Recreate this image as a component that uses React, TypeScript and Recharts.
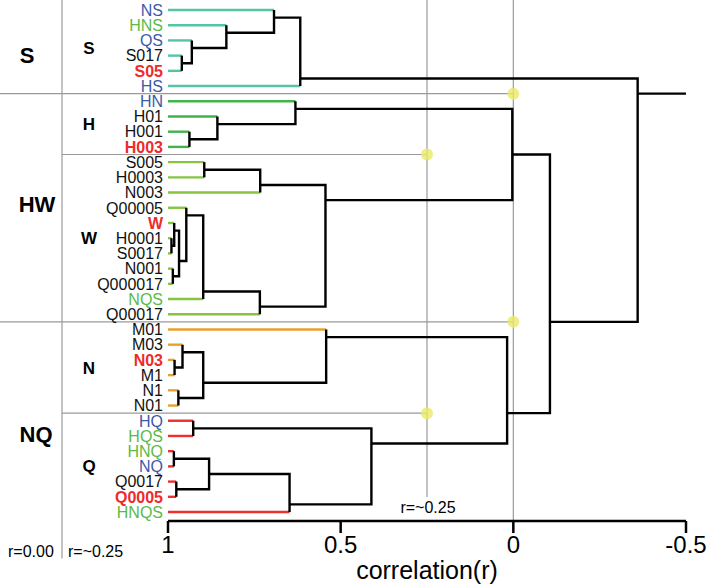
import React from "react";
import { ComposedChart, Line, Scatter, XAxis, YAxis, ReferenceLine } from "recharts";

const leafLabels = [
  "NS", "HNS", "QS", "S017", "S05", "HS",
  "HN", "H01", "H001", "H003",
  "S005", "H0003", "N003", "Q00005", "W", "H0001", "S0017", "N001", "Q000017", "NQS", "Q00017",
  "M01", "M03", "N03", "M1", "N1", "N01",
  "HQ", "HQS", "HNQ", "NQ", "Q0017", "Q0005", "HNQS",
];

// binary = two-component mix, multi = three or more, dilution = diluted series, reference = pure sample
const leafKinds = [
  "binary", "multi", "binary", "dilution", "reference", "binary",
  "binary", "dilution", "dilution", "reference",
  "dilution", "dilution", "dilution", "dilution", "reference", "dilution", "dilution", "dilution", "dilution", "multi", "dilution",
  "dilution", "dilution", "reference", "dilution", "dilution", "dilution",
  "binary", "multi", "multi", "binary", "dilution", "reference", "multi",
];

const subgroupNames = ["S", "H", "W", "N", "Q"];
const subgroupSizes = [6, 4, 11, 6, 7];
const groupNames = ["S", "HW", "NQ"];
const groupSizes = [6, 15, 13];

// [upper child, lower child, r]; ids below 34 are leaves, 34 + k is merge k
const merges: [number, number, number][] = [
  [3, 4, 0.96], // S017 S05
  [2, 34, 0.931],
  [1, 35, 0.831],
  [0, 36, 0.693],
  [37, 5, 0.617], // S
  [8, 9, 0.938], // H001 H003
  [7, 39, 0.857],
  [6, 40, 0.631], // H
  [10, 11, 0.895], // S005 H0003
  [42, 12, 0.733],
  [15, 16, 0.99], // H0001 S0017
  [14, 44, 0.982],
  [17, 18, 0.986], // N001 Q000017
  [45, 46, 0.968],
  [13, 47, 0.947],
  [48, 19, 0.898],
  [49, 20, 0.734],
  [43, 50, 0.544], // W
  [41, 51, 0.003], // HW
  [23, 24, 0.981], // N03 M1
  [22, 53, 0.958],
  [25, 26, 0.97], // N1 N01
  [54, 55, 0.898],
  [21, 56, 0.542], // N
  [27, 28, 0.927], // HQ HQS
  [29, 30, 0.983], // HNQ NQ
  [31, 32, 0.976], // Q0017 Q0005
  [59, 60, 0.881],
  [61, 33, 0.648],
  [58, 62, 0.411], // Q
  [57, 63, 0.018], // NQ
  [52, 64, -0.106],
  [38, 65, -0.36], // root
];
const rootEnd = -0.505;
const axisTicks = [1, 0.5, 0, -0.5];

const kindColor: Record<string, string> = {
  binary: "#3c5aa8",
  multi: "#5db947",
  dilution: "#111111",
  reference: "#ee2b2b",
};
const subgroupColor: Record<string, string> = {
  S: "#55c3a6",
  H: "#41b34a",
  W: "#86c442",
  N: "#e9a12e",
  Q: "#ec2f2f",
};

const FONT = "'Liberation Sans', Arial, Helvetica, sans-serif";
const GRAY = "#9a9a9a";

const nLeaf = leafLabels.length;
const Y_MIN = -0.657;
const Y_MAX = 33.59;

// pixel position (left of the plot) expressed in r, for the frame lines
const rAtPx = (px: number) => 1 - (px - 168) / 345.33;

type NodeInfo = { h: number; y: number; lo: number; hi: number };
const nodes: NodeInfo[] = [];
for (let i = 0; i < nLeaf; i++) nodes.push({ h: 1, y: i, lo: i, hi: i });
merges.forEach(([a, b, r]) => {
  nodes.push({ h: r, y: nodes[a].hi + 0.5, lo: nodes[a].lo, hi: nodes[b].hi });
});

const parentR: number[] = [];
merges.forEach(([a, b, r]) => {
  if (a < nLeaf) parentR[a] = r;
  if (b < nLeaf) parentR[b] = r;
});

const leafSubgroup: string[] = [];
subgroupNames.forEach((name, g) => {
  for (let j = 0; j < subgroupSizes[g]; j++) leafSubgroup.push(name);
});

const groupEdges: number[] = [];
groupSizes.slice(0, -1).reduce((acc, s) => {
  groupEdges.push(acc + s - 0.5);
  return acc + s;
}, 0);
const subEdges: number[] = [];
subgroupSizes.slice(0, -1).reduce((acc, s) => {
  const e = acc + s - 0.5;
  if (!groupEdges.includes(e)) subEdges.push(e);
  return acc + s;
}, 0);

const cutDots = [
  ...groupEdges.map((y) => ({ x: 0, y })),
  ...subEdges.map((y) => ({ x: 0.25, y })),
];

const LeafTick = (props: any) => {
  const { x, y, payload } = props;
  const i = payload.value as number;
  const kind = leafKinds[i];
  return (
    <text
      x={x}
      y={y}
      dy="0.36em"
      textAnchor="end"
      fontSize={16}
      fontFamily={FONT}
      fontWeight={kind === "reference" ? 700 : 400}
      fill={kindColor[kind]}
    >
      {leafLabels[i]}
    </text>
  );
};

const leafPx = (i: number) => 10 + i * 15.21;

export default function App() {
  const leafLines = leafLabels.map((_, i) => [
    { x: 1, y: i },
    { x: parentR[i], y: i },
  ]);
  const linkPaths = merges.map(([a, b, r]) => {
    const pts: { x: number; y: number }[] = [];
    if (a >= nLeaf) pts.push({ x: nodes[a].h, y: nodes[a].y });
    pts.push({ x: r, y: nodes[a].y });
    pts.push({ x: r, y: nodes[b].y });
    if (b >= nLeaf) pts.push({ x: nodes[b].h, y: nodes[b].y });
    return pts;
  });
  const root = nodes[nodes.length - 1];
  const rootLine = [
    { x: root.h, y: root.y },
    { x: rootEnd, y: root.y },
  ];

  let start = 0;
  const subLabelPos = subgroupNames.map((name, g) => {
    const c = start + (subgroupSizes[g] - 1) / 2;
    start += subgroupSizes[g];
    return { name, y: leafPx(c) };
  });
  const groupLabelPos = [
    { name: groupNames[0], x: 27, y: 55 },
    { name: groupNames[1], x: 37, y: 204 },
    { name: groupNames[2], x: 36, y: 434 },
  ];

  return (
    <div style={{ position: "absolute", left: 0, top: 0, width: 709, height: 586, background: "#fff" }}>
      <ComposedChart width={709} height={586} margin={{ top: 0, right: 23, bottom: 0, left: 0 }}>
        <XAxis
          type="number"
          dataKey="x"
          domain={[-0.5, 1]}
          reversed
          allowDataOverflow
          ticks={axisTicks}
          interval={0}
          height={65}
          tickSize={12}
          tickMargin={3}
          tick={{ fontSize: 24, fill: "#000", fontFamily: FONT }}
          axisLine={{ stroke: "#000", strokeWidth: 2.5 }}
          tickLine={{ stroke: "#000", strokeWidth: 2.5 }}
          label={{ value: "correlation(r)", position: "insideBottom", offset: 7, fontSize: 25, fill: "#000", fontFamily: FONT }}
        />
        <YAxis
          type="number"
          dataKey="y"
          domain={[Y_MIN, Y_MAX]}
          reversed
          allowDataOverflow
          ticks={leafLabels.map((_, i) => i)}
          interval={0}
          width={168}
          tickSize={0}
          tickMargin={5}
          axisLine={false}
          tickLine={false}
          tick={<LeafTick />}
        />

        <ReferenceLine
          segment={[{ x: rAtPx(62), y: Y_MIN }, { x: rAtPx(62), y: 36.05 }]}
          stroke={GRAY}
          strokeWidth={1.2}
          ifOverflow="visible"
        />
        <ReferenceLine
          segment={[{ x: 0.25, y: Y_MIN }, { x: 0.25, y: 32.02 }]}
          stroke={GRAY}
          strokeWidth={1.2}
          ifOverflow="visible"
        />
        <ReferenceLine
          segment={[{ x: 0, y: Y_MIN }, { x: 0, y: Y_MAX }]}
          stroke={GRAY}
          strokeWidth={1.2}
          ifOverflow="visible"
        />
        {groupEdges.map((y) => (
          <ReferenceLine
            key={"g" + y}
            segment={[{ x: rAtPx(0), y }, { x: 0, y }]}
            stroke={GRAY}
            strokeWidth={1.2}
            ifOverflow="visible"
          />
        ))}
        {subEdges.map((y) => (
          <ReferenceLine
            key={"s" + y}
            segment={[{ x: rAtPx(62), y }, { x: 0.25, y }]}
            stroke={GRAY}
            strokeWidth={1.2}
            ifOverflow="visible"
          />
        ))}

        {leafLines.map((pts, i) => (
          <Line
            key={"leaf" + i}
            data={pts}
            dataKey="y"
            type="linear"
            stroke={subgroupColor[leafSubgroup[i]]}
            strokeWidth={2.4}
            dot={false}
            activeDot={false}
            isAnimationActive={false}
            legendType="none"
          />
        ))}
        {linkPaths.map((pts, k) => (
          <Line
            key={"link" + k}
            data={pts}
            dataKey="y"
            type="linear"
            stroke="#000"
            strokeWidth={2.4}
            dot={false}
            activeDot={false}
            isAnimationActive={false}
            legendType="none"
          />
        ))}
        <Line
          data={rootLine}
          dataKey="y"
          type="linear"
          stroke="#000"
          strokeWidth={2.4}
          dot={false}
          activeDot={false}
          isAnimationActive={false}
          legendType="none"
        />
        <Scatter
          data={cutDots}
          dataKey="y"
          isAnimationActive={false}
          shape={(p: any) => <circle cx={p.cx} cy={p.cy} r={6} fill="#eaea66" fillOpacity={0.8} />}
        />
      </ComposedChart>

      <svg
        width={709}
        height={586}
        style={{ position: "absolute", left: 0, top: 0, pointerEvents: "none" }}
        fontFamily={FONT}
      >
        {groupLabelPos.map((g) => (
          <text key={g.name} x={g.x} y={g.y} dy="0.36em" textAnchor="middle" fontSize={22} fontWeight={700} fill="#000">
            {g.name}
          </text>
        ))}
        {subLabelPos.map((s) => (
          <text key={s.name} x={89} y={s.y} dy="0.36em" textAnchor="middle" fontSize={17} fontWeight={700} fill="#000">
            {s.name}
          </text>
        ))}
        <text x={428} y={507} dy="0.36em" textAnchor="middle" fontSize={16} fill="#000">
          r=~0.25
        </text>
        <text x={8} y={551} dy="0.36em" fontSize={16} fill="#000">
          r=0.00
        </text>
        <text x={68} y={551} dy="0.36em" fontSize={16} fill="#000">
          r=~0.25
        </text>
      </svg>
    </div>
  );
}
